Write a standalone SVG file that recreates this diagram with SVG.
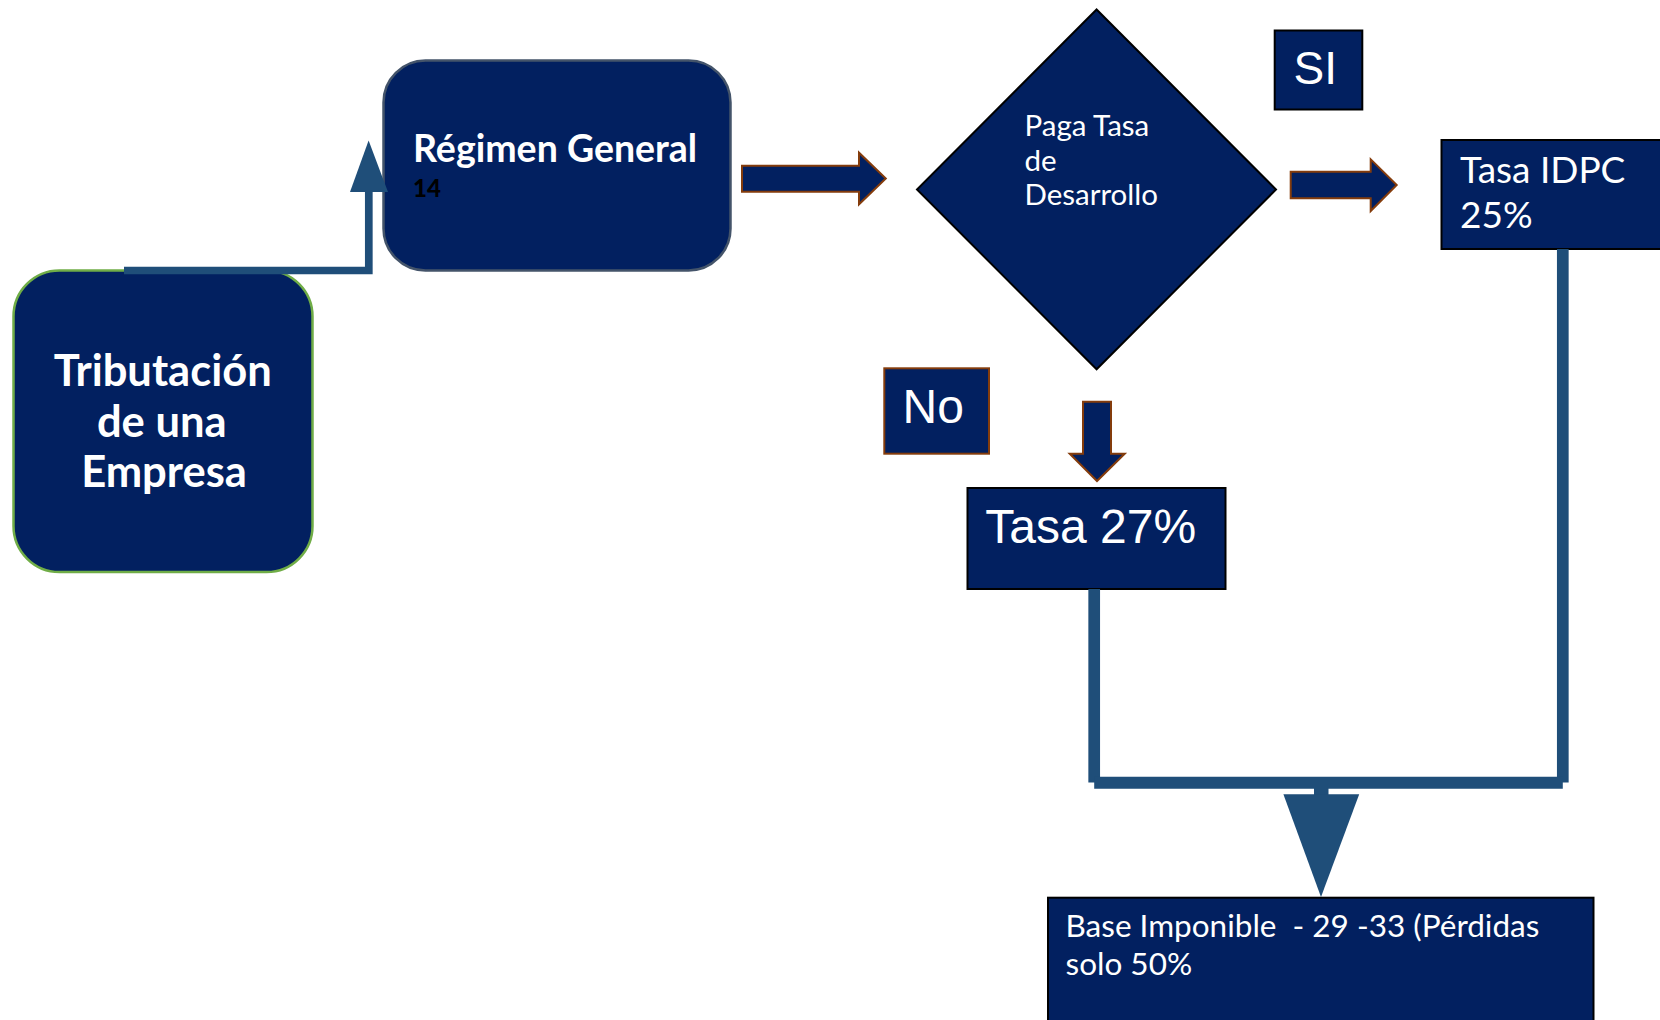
<svg xmlns="http://www.w3.org/2000/svg" width="1660" height="1020" viewBox="0 0 1660 1020">
  <style>
    .box { fill: #022060; stroke: #000000; stroke-width: 2; }
    .box-brown { fill: #022060; stroke: #843C0C; stroke-width: 2; }
    .block { fill: #022060; stroke: #843C0C; stroke-width: 2; stroke-linejoin: miter; }
    .link { fill: none; stroke: #1F4E79; stroke-linecap: butt; }
    .head { fill: #1F4E79; }
    .lato { font-family: Lato, "Liberation Sans", sans-serif; fill: #FFFFFF; }
    .arial { font-family: "Liberation Sans", Arial, sans-serif; fill: #FFFFFF; }
  </style>

  <rect width="1660" height="1020" fill="#FFFFFF"/>

  <!-- Start node -->
  <g id="tributacion">
    <rect x="13.5" y="270.5" width="299" height="301.5" rx="46" ry="46" fill="#022060" stroke="#70AD47" stroke-width="2.5"/>
    <text class="lato" font-size="43.5" font-weight="bold" text-anchor="middle">
      <tspan x="168" y="386">Tributación</tspan>
      <tspan x="167" y="436.5">de una</tspan>
      <tspan x="164" y="487">Empresa</tspan>
    </text>
  </g>

  <!-- General regime -->
  <g id="regimen-general">
    <rect x="383.5" y="60.5" width="347" height="210" rx="42" ry="42" fill="#022060" stroke="#44546A" stroke-width="2.5"/>
    <text class="lato" x="413" y="161.5" font-size="37.5" font-weight="bold">Régimen General</text>
    <text x="413" y="197.3" font-family="Lato, 'Liberation Sans', sans-serif" font-size="24" font-weight="900" fill="#000000">14</text>
  </g>

  <!-- Decision -->
  <g id="decision">
    <polygon class="box" points="1096.6,9.5 1276,189.5 1096.6,369.3 917,189.5"/>
    <text class="lato" font-size="29.5">
      <tspan x="1024.5" y="136">Paga Tasa</tspan>
      <tspan x="1024.5" y="170.7">de</tspan>
      <tspan x="1024.5" y="205.3">Desarrollo</tspan>
    </text>
  </g>

  <g id="label-si">
    <rect class="box" x="1274.7" y="30.5" width="87.6" height="79"/>
    <text class="arial" x="1293.5" y="84.3" font-size="46">SI</text>
  </g>

  <g id="label-no">
    <rect class="box-brown" x="884.3" y="368.3" width="104.7" height="85.4"/>
    <text class="arial" x="902.5" y="423.3" font-size="48">No</text>
  </g>

  <g id="tasa-idpc">
    <rect class="box" x="1441.5" y="140" width="240" height="109"/>
    <text class="lato" font-size="37">
      <tspan x="1460" y="183.3">Tasa IDPC</tspan>
      <tspan x="1460" y="228.3">25%</tspan>
    </text>
  </g>

  <g id="tasa-27">
    <rect class="box" x="967.5" y="488" width="258" height="101"/>
    <text class="arial" x="985.3" y="542.7" font-size="48">Tasa 27%</text>
  </g>

  <g id="base-imponible">
    <rect class="box" x="1048" y="897.7" width="545.5" height="140"/>
    <text class="lato" font-size="31.5">
      <tspan x="1065.5" y="936.7" xml:space="preserve">Base Imponible  - 29 -33 (Pérdidas</tspan>
      <tspan x="1065.5" y="975">solo 50%</tspan>
    </text>
  </g>

  <!-- Connectors and block arrows -->
  <g id="connectors">
    <!-- start to general regime -->
    <path class="link" d="M124,270.5 H368.8 V191" stroke-width="7.7" stroke-linejoin="miter"/>
    <polygon class="head" points="350,192 388,192 368.6,140.5"/>

    <!-- block arrows -->
    <polygon class="block" points="742,165.7 859,165.7 859,152.7 885.8,178.5 859,204.3 859,191.7 742,191.7"/>
    <polygon class="block" points="1290.7,171.7 1370.7,171.7 1370.7,159.3 1396.7,185 1370.7,211 1370.7,198.3 1290.7,198.3"/>
    <polygon class="block" points="1083,401.7 1111,401.7 1111,453.7 1124.7,453.7 1097,481 1069.7,453.7 1083,453.7"/>

    <!-- merge of both rates into the taxable base -->
    <line class="link" x1="1094.2" y1="589" x2="1094.2" y2="782.5" stroke-width="11.7"/>
    <line class="link" x1="1562.8" y1="249" x2="1562.8" y2="782.5" stroke-width="11.7"/>
    <line class="link" x1="1094.2" y1="782.7" x2="1562.8" y2="782.7" stroke-width="12"/>
    <rect class="head" x="1314" y="788" width="14.5" height="7"/>
    <polygon class="head" points="1283.4,794.3 1359.2,794.3 1321,897"/>
  </g>
</svg>
